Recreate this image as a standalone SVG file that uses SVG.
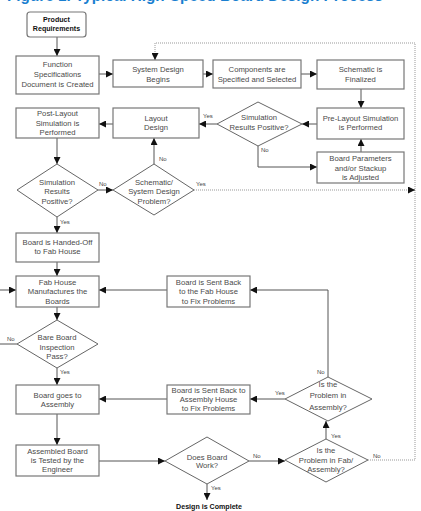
<svg xmlns="http://www.w3.org/2000/svg" width="421" height="511" viewBox="0 0 421 511">
<defs>
<marker id="ah" viewBox="0 0 10 10" refX="10" refY="5" markerWidth="7" markerHeight="7" markerUnits="userSpaceOnUse" orient="auto">
<path d="M0,0 L10,5 L0,10 z" fill="#111"/>
</marker>
<style>
.box{fill:#fff;stroke:#777;stroke-width:1.2}
.dia{fill:#fff;stroke:#666;stroke-width:1}
.t{font-family:"Liberation Sans",Arial,sans-serif;font-size:7.7px;fill:#4a4a4a;text-anchor:middle}
.b{font-family:"Liberation Sans",Arial,sans-serif;font-size:7.1px;font-weight:bold;fill:#111;text-anchor:middle}
.lb{font-family:"Liberation Sans",Arial,sans-serif;font-size:6px;fill:#444}
.c{fill:none;stroke:#555;stroke-width:1}
.d{fill:none;stroke:#999;stroke-width:1;stroke-dasharray:1,1}
</style>
</defs>
<rect width="421" height="511" fill="#fff"/>
<text x="7" y="1" font-family="Liberation Sans,Arial,sans-serif" font-size="17" font-weight="bold" fill="#1a7fd0" textLength="376" lengthAdjust="spacingAndGlyphs">Figure 1. Typical High-Speed Board Design Process</text>

<g id="connectors">
<path class="c" d="M57,37 V56" marker-end="url(#ah)"/>
<path class="c" d="M99,74 H113" marker-end="url(#ah)"/>
<path class="c" d="M203,74 H213" marker-end="url(#ah)"/>
<path class="c" d="M301,74 H317" marker-end="url(#ah)"/>
<path class="c" d="M361,89 V108" marker-end="url(#ah)"/>
<path class="c" d="M317,124 H302" marker-end="url(#ah)"/>
<path class="c" d="M217,124 H199" marker-end="url(#ah)"/>
<path class="c" d="M113,124 H99" marker-end="url(#ah)"/>
<path class="c" d="M258,146 V167 H317" marker-end="url(#ah)"/>
<path class="c" d="M361,152 V139" marker-end="url(#ah)"/>
<path class="c" d="M57,138 V164" marker-end="url(#ah)"/>
<path class="c" d="M98,190 H113" marker-end="url(#ah)"/>
<path class="c" d="M154,164 V138" marker-end="url(#ah)"/>
<path class="c" d="M57,217 V233" marker-end="url(#ah)"/>
<path class="c" d="M57,262 V276" marker-end="url(#ah)"/>
<path class="c" d="M0,290 H16" marker-end="url(#ah)"/>
<path class="c" d="M167,290 H99" marker-end="url(#ah)"/>
<path class="c" d="M57,307 V320" marker-end="url(#ah)"/>
<path class="c" d="M17,344 H0"/>
<path class="c" d="M57,368 V385" marker-end="url(#ah)"/>
<path class="c" d="M167,399 H99" marker-end="url(#ah)"/>
<path class="c" d="M57,414 V445" marker-end="url(#ah)"/>
<path class="c" d="M99,461 H165" marker-end="url(#ah)"/>
<path class="c" d="M249,461 H285" marker-end="url(#ah)"/>
<path class="c" d="M326,439 V421" marker-end="url(#ah)"/>
<path class="c" d="M285,399 H250" marker-end="url(#ah)"/>
<path class="c" d="M328,377 V290 H250" marker-end="url(#ah)"/>
<path class="c" d="M207,484 V500" marker-end="url(#ah)"/>
<path class="d" d="M368,460 H415 V43 H155 V59"/>
<path class="c" d="M155,53 V60" marker-end="url(#ah)"/>
<path class="d" d="M194,190 H412"/>
<path class="c" d="M408,190 H415" marker-end="url(#ah)"/>
<text class="lb" x="203" y="118">Yes</text>
<text class="lb" x="261" y="152">No</text>
<text class="lb" x="99" y="186">No</text>
<text class="lb" x="159" y="161">No</text>
<text class="lb" x="196" y="186">Yes</text>
<text class="lb" x="60" y="224">Yes</text>
<text class="lb" x="7" y="341">No</text>
<text class="lb" x="60" y="374">Yes</text>
<text class="lb" x="275" y="395">Yes</text>
<text class="lb" x="317" y="374">No</text>
<text class="lb" x="331" y="438">Yes</text>
<text class="lb" x="253" y="458">No</text>
<text class="lb" x="373" y="458">No</text>
<text class="lb" x="211" y="490">Yes</text>
</g>

<g id="product-requirements">
<rect class="box" x="27" y="12" width="59" height="25" rx="3"/>
<text class="b" x="56.5" y="22">Product</text>
<text class="b" x="56.5" y="31">Requirements</text>
</g>
<g id="function-spec">
<rect class="box" x="16" y="56" width="83" height="38"/>
<text class="t" x="57.5" y="67">Function</text>
<text class="t" x="57.5" y="77">Specifications</text>
<text class="t" x="57.5" y="87">Document is Created</text>
</g>
<g id="system-design">
<rect class="box" x="113" y="60" width="90" height="27"/>
<text class="t" x="158" y="72">System Design</text>
<text class="t" x="158" y="82">Begins</text>
</g>
<g id="components">
<rect class="box" x="213" y="60" width="88" height="28"/>
<text class="t" x="257" y="72">Components are</text>
<text class="t" x="257" y="82">Specified and Selected</text>
</g>
<g id="schematic">
<rect class="box" x="317" y="60" width="87" height="29"/>
<text class="t" x="360.5" y="72">Schematic is</text>
<text class="t" x="360.5" y="82">Finalized</text>
</g>
<g id="pre-layout">
<rect class="box" x="317" y="108" width="87" height="31"/>
<text class="t" x="360.5" y="121">Pre-Layout Simulation</text>
<text class="t" x="360.5" y="130">is Performed</text>
</g>
<g id="sim-upper">
<polygon class="dia" points="258,102 302,124 258,146 217,124"/>
<text class="t" x="259" y="120">Simulation</text>
<text class="t" x="259" y="130">Results Positive?</text>
</g>
<g id="layout-design">
<rect class="box" x="113" y="108" width="86" height="30"/>
<text class="t" x="156" y="121">Layout</text>
<text class="t" x="156" y="130">Design</text>
</g>
<g id="post-layout">
<rect class="box" x="16" y="108" width="83" height="30"/>
<text class="t" x="57.5" y="116">Post-Layout</text>
<text class="t" x="57.5" y="126">Simulation is</text>
<text class="t" x="57.5" y="135">Performed</text>
</g>
<g id="board-params">
<rect class="box" x="317" y="152" width="87" height="31"/>
<text class="t" x="360.5" y="161">Board Parameters</text>
<text class="t" x="360.5" y="171">and/or Stackup</text>
<text class="t" x="360.5" y="180">is Adjusted</text>
</g>
<g id="sim-lower">
<polygon class="dia" points="57,164 98,190 57,217 17,190"/>
<text class="t" x="57" y="185">Simulation</text>
<text class="t" x="57" y="194">Results</text>
<text class="t" x="57" y="204">Positive?</text>
</g>
<g id="schematic-problem">
<polygon class="dia" points="154,164 194,190 154,215 113,190"/>
<text class="t" x="154" y="185">Schematic/</text>
<text class="t" x="154" y="194">System Design</text>
<text class="t" x="154" y="204">Problem?</text>
</g>
<g id="handed-off">
<rect class="box" x="16" y="233" width="83" height="29"/>
<text class="t" x="57.5" y="245">Board is Handed-Off</text>
<text class="t" x="57.5" y="254">to Fab House</text>
</g>
<g id="fab-house">
<rect class="box" x="16" y="276" width="83" height="31"/>
<text class="t" x="57.5" y="285">Fab House</text>
<text class="t" x="57.5" y="294">Manufactures the</text>
<text class="t" x="57.5" y="304">Boards</text>
</g>
<g id="sent-back-fab">
<rect class="box" x="167" y="276" width="83" height="31"/>
<text class="t" x="208.5" y="285">Board is Sent Back</text>
<text class="t" x="208.5" y="294">to the Fab House</text>
<text class="t" x="208.5" y="304">to Fix Problems</text>
</g>
<g id="bare-board">
<polygon class="dia" points="57,320 98,344 57,368 17,344"/>
<text class="t" x="57" y="340">Bare Board</text>
<text class="t" x="57" y="350">Inspection</text>
<text class="t" x="57" y="359">Pass?</text>
</g>
<g id="board-assembly">
<rect class="box" x="16" y="385" width="83" height="29"/>
<text class="t" x="57.5" y="398">Board goes to</text>
<text class="t" x="57.5" y="407">Assembly</text>
</g>
<g id="sent-back-assembly">
<rect class="box" x="167" y="385" width="83" height="29"/>
<text class="t" x="208.5" y="393">Board is Sent Back to</text>
<text class="t" x="208.5" y="402">Assembly House</text>
<text class="t" x="208.5" y="411">to Fix Problems</text>
</g>
<g id="problem-assembly">
<polygon class="dia" points="328,377 372,399 328,421 285,399"/>
<text class="t" x="328" y="387">Is the</text>
<text class="t" x="328" y="398">Problem in</text>
<text class="t" x="328" y="410">Assembly?</text>
</g>
<g id="assembled-tested">
<rect class="box" x="16" y="445" width="83" height="31"/>
<text class="t" x="57.5" y="454">Assembled Board</text>
<text class="t" x="57.5" y="463">is Tested by the</text>
<text class="t" x="57.5" y="472">Engineer</text>
</g>
<g id="board-work">
<polygon class="dia" points="207,437 249,461 207,484 165,461"/>
<text class="t" x="207" y="460">Does Board</text>
<text class="t" x="207" y="468">Work?</text>
</g>
<g id="problem-fab-assembly">
<polygon class="dia" points="326,439 368,460 326,482 285,460"/>
<text class="t" x="326" y="453">Is the</text>
<text class="t" x="326" y="463">Problem in Fab/</text>
<text class="t" x="326" y="472">Assembly?</text>
</g>
<g id="design-complete">
<text class="b" x="209" y="509">Design is Complete</text>
</g>
</svg>
